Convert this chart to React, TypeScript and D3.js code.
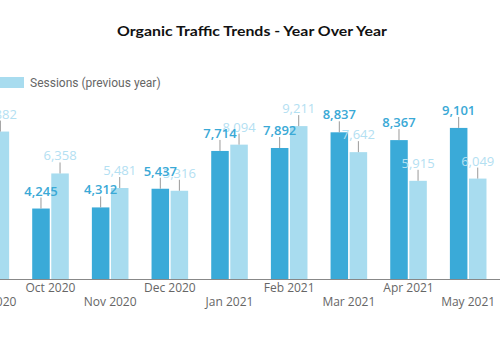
import React from "react";
import * as d3 from "d3";

const months = [
  "Sep 2020", "Oct 2020", "Nov 2020", "Dec 2020", "Jan 2021",
  "Feb 2021", "Mar 2021", "Apr 2021", "May 2021",
];
const sessions = [4180, 4245, 4312, 5437, 7714, 7892, 8837, 8367, 9101];
const sessionsPrev = [8882, 6358, 5481, 5316, 8094, 9211, 7642, 5915, 6049];
const seriesKeys = ["current", "previous"];
const seriesNames = ["Sessions", "Sessions (previous year)"];
const colors = ["#3aaad8", "#a8dcef"];
const labelColors = ["#3aa9d6", "#b3e0f2"];

const W = 500;
const H = 350;
const baseY = 279;
const fmt = d3.format(",");

export default function App() {
  const x0 = d3.scaleBand<string>().domain(months).range([-39, -39 + 59.67 * months.length]).paddingInner(0).paddingOuter(0);
  const groupW = 36.6;
  const x1 = d3.scaleBand<string>().domain(seriesKeys).range([0, groupW]).paddingInner(0.08).paddingOuter(0);
  const y = d3.scaleLinear().domain([0, 10000]).range([baseY, 113]);

  const rows = months.map((m, i) => ({ m, vals: [sessions[i], sessionsPrev[i]] }));
  const bx = (m: string, k: string) => (x0(m) as number) + (x0.bandwidth() - groupW) / 2 + (x1(k) as number);
  const bw = x1.bandwidth();

  return (
    <svg width={W} height={H} style={{ position: "absolute", left: 0, top: 0, background: "#fff" }}>
      <text x={252} y={36} textAnchor="middle" fontFamily="Lato, 'Open Sans', sans-serif" fontWeight={700}
        fontSize={14} fill="#111" textLength={270} lengthAdjust="spacingAndGlyphs">
        Organic Traffic Trends - Year Over Year
      </text>

      {/* legend */}
      <g fontFamily="Roboto, sans-serif" fontSize={12} fill="#666">
        <rect x={-112} y={77} width={30} height={11} fill={colors[0]} />
        <text x={-76} y={87}>{seriesNames[0]}</text>
        <rect x={-6} y={77} width={30} height={11} fill={colors[1]} />
        <text x={30} y={87}>{seriesNames[1]}</text>
      </g>

      {/* bars */}
      {rows.map((r) =>
        seriesKeys.map((k, j) => (
          <rect key={r.m + k} x={bx(r.m, k)} y={y(r.vals[j])} width={bw} height={baseY - y(r.vals[j])} fill={colors[j]} />
        ))
      )}

      {/* connectors */}
      {rows.map((r) =>
        seriesKeys.map((k, j) => {
          const cx = bx(r.m, k) + bw / 2;
          return <line key={"c" + r.m + k} x1={cx} x2={cx} y1={y(r.vals[j]) - 11} y2={y(r.vals[j])} stroke="#9a9a9a" strokeWidth={1} />;
        })
      )}

      {/* value labels: previous year first, current on top */}
      {[1, 0].map((j) =>
        rows.map((r) => {
          const k = seriesKeys[j];
          const cx = bx(r.m, k) + bw / 2;
          return (
            <text key={"t" + r.m + k} x={cx} y={y(r.vals[j]) - 13} textAnchor="middle"
              fontFamily="'Open Sans', sans-serif" fontSize={13} fontWeight={j === 0 ? 600 : 400} fill={labelColors[j]}>
              {fmt(r.vals[j])}
            </text>
          );
        })
      )}

      {/* x axis */}
      <line x1={0} x2={W} y1={baseY + 0.5} y2={baseY + 0.5} stroke="#888" strokeWidth={1} />
      {months.map((m, i) => (
        <text key={"x" + m} x={(x0(m) as number) + x0.bandwidth() / 2} y={i % 2 === 0 ? 306 : 292}
          textAnchor="middle" fontFamily="'Open Sans', sans-serif" fontSize={12} fill="#666">
          {m}
        </text>
      ))}
    </svg>
  );
}
